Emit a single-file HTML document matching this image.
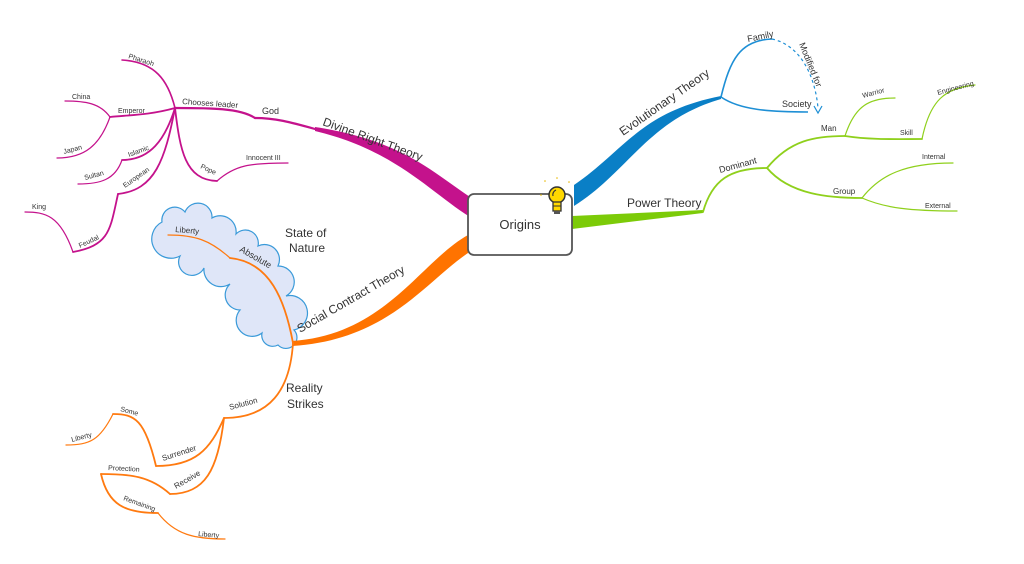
<!DOCTYPE html>
<html><head><meta charset="utf-8"><style>
html,body{margin:0;padding:0;background:#fff}
svg{display:block}
text{font-family:"Liberation Sans",sans-serif;fill:#333}
</style></head><body>
<svg width="1024" height="564" viewBox="0 0 1024 564" xmlns="http://www.w3.org/2000/svg">
<rect width="1024" height="564" fill="#fff"/>
<!-- cloud -->
<path d="M162,222 A13,13 0 0 1 185,212 A14,14 0 0 1 212,218 A16,16 0 0 1 236,234 A13,13 0 0 1 258,246 A15,15 0 0 1 278,266 A16,16 0 0 1 286,296 A15,15 0 0 1 294,330 A10,10 0 0 1 278,345 A11,11 0 0 1 262,333 A16,16 0 0 1 240,310 A15,15 0 0 1 230,284 A17,17 0 0 1 204,268 A12,12 0 0 1 180,256 A12,12 0 0 1 162,222 Z" fill="#dfe6f8" stroke="#3a9ad9" stroke-width="1.2"/>

<!-- magenta -->
<g fill="none" stroke="#c4128c" stroke-linecap="round">
<path d="M315,129 C290,122 275,118 255,118" stroke-width="2.2"/>
<path d="M255,118 C240,108 210,108 175,108" stroke-width="2.2"/>
<path d="M175,108 C168,80 155,62 122,60" stroke-width="1.6"/>
<path d="M175,108 C150,115 130,115 110,117" stroke-width="1.8"/>
<path d="M110,117 C100,103 85,101 65,101" stroke-width="1.2"/>
<path d="M110,117 C100,145 85,158 57,158" stroke-width="1.2"/>
<path d="M175,108 C165,140 150,160 122,160" stroke-width="1.8"/>
<path d="M122,160 C115,180 100,184 78,184" stroke-width="1.2"/>
<path d="M175,108 C165,160 155,190 118,194" stroke-width="1.8"/>
<path d="M118,194 C110,230 110,245 73,252" stroke-width="1.8"/>
<path d="M73,252 C60,215 45,212 25,212" stroke-width="1.2"/>
<path d="M175,108 C180,150 185,180 217,181" stroke-width="1.8"/>
<path d="M217,181 C235,165 250,163 288,163" stroke-width="1.2"/>
</g>
<path d="M315,127 C400,140 430,170 470,197 L470,217 C430,192 395,150 315,131 Z" fill="#c4128c"/>

<!-- blue -->
<path d="M574,185 C625,150 640,112 721,96 L721,99 C648,120 628,172 574,206 Z" fill="#0a7fc6"/>
<g fill="none" stroke="#1e8fd5" stroke-width="1.6">
<path d="M721,97 C730,60 740,40 772,39"/>
<path d="M721,97 C740,110 770,112 808,112"/>
<path d="M772,39 C800,45 815,75 818,108" stroke-dasharray="3,3" stroke-width="1.2"/>
</g>
<path d="M814,106 L818,113 L822,106" fill="none" stroke="#1e8fd5" stroke-width="1.2"/>

<!-- green -->
<path d="M572,216 L703,210 L703,213 L572,229 Z" fill="#7ccb08"/>
<g fill="none" stroke="#8fd01c" stroke-linecap="round">
<path d="M703,212 C712,180 730,168 767,168" stroke-width="1.8"/>
<path d="M767,168 C790,140 815,136 845,136" stroke-width="1.8"/>
<path d="M845,136 C855,105 870,98 895,98" stroke-width="1.2"/>
<path d="M845,136 C870,140 900,139 922,139" stroke-width="1.8"/>
<path d="M922,139 C930,100 945,88 975,85" stroke-width="1.2"/>
<path d="M767,168 C790,195 830,198 862,198" stroke-width="1.8"/>
<path d="M862,198 C880,175 905,163 953,163" stroke-width="1.2"/>
<path d="M862,198 C885,208 910,211 957,211" stroke-width="1.2"/>
</g>

<!-- orange -->
<path d="M468,235 C420,262 385,335 292,341 L292,346 C388,340 425,282 468,253 Z" fill="#ff7300"/>
<g fill="none" stroke="#ff7a10" stroke-linecap="round">
<path d="M293,343 C285,300 270,262 230,258" stroke-width="1.8"/>
<path d="M230,258 C210,240 195,235 168,235" stroke-width="1.2"/>
<path d="M293,343 C290,390 270,418 224,418" stroke-width="1.8"/>
<path d="M224,418 C210,450 195,466 156,466" stroke-width="1.8"/>
<path d="M156,466 C145,420 135,414 113,414" stroke-width="1.8"/>
<path d="M113,414 C100,440 90,445 66,445" stroke-width="1.2"/>
<path d="M224,418 C218,470 205,494 170,494" stroke-width="1.8"/>
<path d="M170,494 C150,476 130,474 101,474" stroke-width="1.8"/>
<path d="M101,474 C108,505 125,513 158,513" stroke-width="1.8"/>
<path d="M158,513 C175,535 195,539 225,539" stroke-width="1.2"/>
</g>

<!-- central -->
<rect x="468" y="194" width="104" height="61" rx="6" fill="#fff" stroke="#555" stroke-width="1.8"/>
<text x="520" y="229" font-size="13" text-anchor="middle">Origins</text>
<!-- bulb -->
<g>
<circle cx="557" cy="195" r="8" fill="#ffd800" stroke="#333" stroke-width="1.5"/>
<rect x="553" y="202" width="8" height="9" fill="#ffd800" stroke="#333" stroke-width="1.3"/>
<line x1="553" y1="206" x2="561" y2="206" stroke="#333" stroke-width="1"/>
<rect x="554" y="211" width="6" height="3" fill="#555"/>
<path d="M553,196 A5,5 0 0 1 556,190" fill="none" stroke="#333" stroke-width="1.2"/>
<circle cx="545" cy="181" r="0.8" fill="#e8b800"/><circle cx="557" cy="178" r="0.8" fill="#e8b800"/><circle cx="569" cy="182" r="0.8" fill="#e8b800"/><circle cx="541" cy="195" r="0.8" fill="#e8b800"/>
</g>

<!-- labels magenta -->
<text x="322" y="125" font-size="12" transform="rotate(20 322 125)">Divine Right Theory</text>
<text x="262" y="114" font-size="9">God</text>
<text x="182" y="104" font-size="8" transform="rotate(4 182 104)">Chooses leader</text>
<text x="128" y="58" font-size="7" transform="rotate(18 128 58)">Pharaoh</text>
<text x="118" y="113" font-size="7">Emperor</text>
<text x="72" y="99" font-size="7">China</text>
<text x="64" y="154" font-size="7" transform="rotate(-15 64 154)">Japan</text>
<text x="129" y="157" font-size="7" transform="rotate(-20 129 157)">Islamic</text>
<text x="85" y="180" font-size="7" transform="rotate(-15 85 180)">Sultan</text>
<text x="125" y="188" font-size="7" transform="rotate(-35 125 188)">European</text>
<text x="80" y="248" font-size="7" transform="rotate(-25 80 248)">Feudal</text>
<text x="32" y="209" font-size="7">King</text>
<text x="200" y="168" font-size="7" transform="rotate(25 200 168)">Pope</text>
<text x="246" y="160" font-size="7">Innocent III</text>

<!-- blue labels -->
<text x="623" y="136" font-size="12" transform="rotate(-35 623 136)">Evolutionary Theory</text>
<text x="748" y="42" font-size="9" transform="rotate(-12 748 42)">Family</text>
<text x="782" y="107" font-size="9">Society</text>
<text x="799" y="44" font-size="9" transform="rotate(68 799 44)">Modified for</text>

<!-- green labels -->
<text x="627" y="207" font-size="12">Power Theory</text>
<text x="720" y="173" font-size="9" transform="rotate(-15 720 173)">Dominant</text>
<text x="821" y="131" font-size="8">Man</text>
<text x="863" y="98" font-size="7" transform="rotate(-15 863 98)">Warrior</text>
<text x="900" y="135" font-size="7">Skill</text>
<text x="938" y="95" font-size="7" transform="rotate(-15 938 95)">Engineering</text>
<text x="833" y="194" font-size="8">Group</text>
<text x="922" y="159" font-size="7">Internal</text>
<text x="925" y="208" font-size="7">External</text>

<!-- orange labels -->
<text x="300" y="333" font-size="12" transform="rotate(-30 300 333)">Social Contract Theory</text>
<text x="285" y="237" font-size="12">State of</text>
<text x="289" y="252" font-size="12">Nature</text>
<text x="239" y="251" font-size="9" transform="rotate(30 239 251)">Absolute</text>
<text x="175" y="232" font-size="8" transform="rotate(5 175 232)">Liberty</text>
<text x="286" y="392" font-size="12">Reality</text>
<text x="287" y="408" font-size="12">Strikes</text>
<text x="230" y="410" font-size="8" transform="rotate(-15 230 410)">Solution</text>
<text x="163" y="461" font-size="8" transform="rotate(-18 163 461)">Surrender</text>
<text x="120" y="411" font-size="7" transform="rotate(15 120 411)">Some</text>
<text x="72" y="442" font-size="7" transform="rotate(-15 72 442)">Liberty</text>
<text x="176" y="489" font-size="8" transform="rotate(-30 176 489)">Receive</text>
<text x="108" y="470" font-size="7" transform="rotate(3 108 470)">Protection</text>
<text x="123" y="500" font-size="7" transform="rotate(20 123 500)">Remaining</text>
<text x="198" y="536" font-size="7" transform="rotate(5 198 536)">Liberty</text>
</svg>
</body></html>
